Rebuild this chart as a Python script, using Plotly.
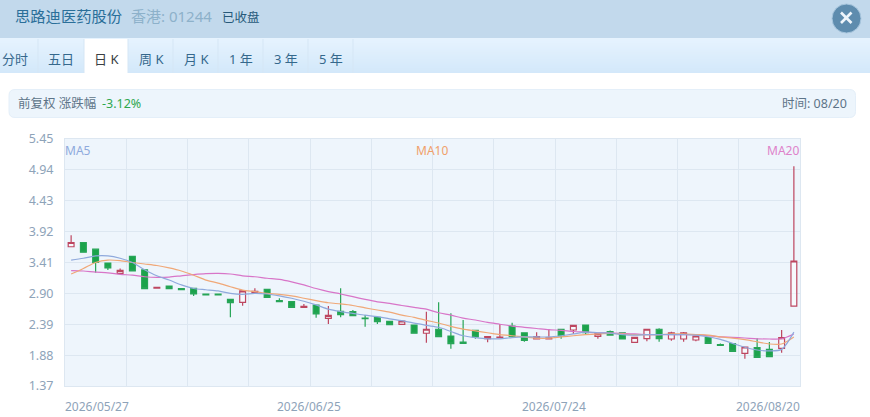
import plotly.graph_objects as go

dates = ["2026/05/27","2026/05/28","2026/05/29","2026/06/01","2026/06/02","2026/06/03","2026/06/04","2026/06/05","2026/06/08","2026/06/09",
"2026/06/10","2026/06/11","2026/06/12","2026/06/15","2026/06/16","2026/06/17","2026/06/18","2026/06/22","2026/06/23","2026/06/24",
"2026/06/25","2026/06/26","2026/06/29","2026/06/30","2026/07/02","2026/07/03","2026/07/06","2026/07/07","2026/07/08","2026/07/09",
"2026/07/10","2026/07/13","2026/07/14","2026/07/15","2026/07/16","2026/07/17","2026/07/20","2026/07/21","2026/07/22","2026/07/23",
"2026/07/24","2026/07/27","2026/07/28","2026/07/29","2026/07/30","2026/07/31","2026/08/03","2026/08/04","2026/08/05","2026/08/06",
"2026/08/07","2026/08/10","2026/08/11","2026/08/12","2026/08/13","2026/08/14","2026/08/17","2026/08/18","2026/08/19","2026/08/20"]

open_ = [3.67,3.74,3.63,3.40,3.23,3.51,3.29,2.985,3.02,2.977,2.984,2.89,2.89,2.80,2.75,2.91,2.967,2.779,2.763,2.67,
2.708,2.488,2.604,2.597,2.493,2.505,2.439,2.389,2.378,2.241,2.307,2.196,2.097,2.29,2.151,2.168,2.361,2.25,2.146,2.15,
2.307,2.295,2.378,2.191,2.267,2.25,2.092,2.151,2.307,2.146,2.146,2.13,2.168,2.052,2.069,1.91,2.003,1.976,1.993,2.691]
close = [3.74,3.58,3.41,3.32,3.28,3.27,2.977,3.00,2.977,2.96,2.89,2.873,2.873,2.746,2.94,2.934,2.835,2.763,2.67,2.687,
2.559,2.538,2.548,2.531,2.482,2.432,2.383,2.444,2.241,2.307,2.184,2.069,2.075,2.179,2.184,2.179,2.184,2.125,2.184,2.165,
2.196,2.373,2.25,2.234,2.212,2.146,2.174,2.307,2.151,2.246,2.25,2.196,2.075,2.042,1.943,2.014,1.844,1.854,2.168,3.435]
high = [3.86,3.75,3.64,3.40,3.31,3.52,3.29,3.005,3.02,2.977,2.984,2.89,2.89,2.802,2.94,2.984,2.967,2.819,2.763,2.725,
2.708,2.692,2.984,2.625,2.543,2.505,2.439,2.444,2.378,2.597,2.753,2.571,2.46,2.29,2.184,2.394,2.416,2.25,2.257,2.307,
2.307,2.373,2.378,2.234,2.285,2.25,2.174,2.307,2.323,2.267,2.26,2.196,2.168,2.07,2.069,2.014,2.158,2.097,2.295,5.00]
low = [3.66,3.57,3.24,3.286,3.23,3.27,2.977,2.98,2.977,2.96,2.857,2.873,2.873,2.505,2.696,2.91,2.835,2.763,2.67,2.67,
2.498,2.394,2.505,2.531,2.35,2.394,2.383,2.389,2.241,2.085,2.184,1.986,2.075,2.151,2.092,2.168,2.184,2.102,2.146,2.15,
2.151,2.229,2.229,2.151,2.212,2.146,2.092,2.108,2.102,2.118,2.102,2.108,2.075,2.042,1.943,1.821,1.844,1.854,1.92,2.691]

ma5 = [3.45,3.48,3.52,3.52,3.48,3.41,3.29,3.19,3.12,3.04,2.98,2.96,2.94,2.90,2.885,2.90,2.89,2.86,2.82,2.77,
2.71,2.64,2.60,2.57,2.54,2.515,2.48,2.45,2.41,2.37,2.34,2.27,2.20,2.17,2.15,2.15,2.17,2.18,2.18,2.18,
2.20,2.23,2.26,2.25,2.245,2.22,2.21,2.217,2.22,2.22,2.217,2.21,2.184,2.14,2.075,2.01,1.965,1.95,1.975,2.26]
ma10 = [3.22,3.31,3.41,3.45,3.44,3.41,3.385,3.36,3.32,3.27,3.20,3.12,3.07,3.01,2.955,2.93,2.90,2.885,2.86,2.82,
2.78,2.745,2.725,2.70,2.66,2.625,2.59,2.54,2.505,2.455,2.41,2.356,2.31,2.28,2.25,2.22,2.20,2.18,2.16,2.16,
2.18,2.20,2.217,2.23,2.24,2.23,2.217,2.217,2.22,2.23,2.23,2.22,2.21,2.18,2.16,2.135,2.10,2.064,2.064,2.18]
ma20 = [3.275,3.27,3.25,3.24,3.215,3.20,3.175,3.165,3.17,3.19,3.21,3.225,3.23,3.22,3.19,3.175,3.15,3.13,3.09,3.04,
2.98,2.93,2.89,2.845,2.80,2.76,2.735,2.70,2.67,2.64,2.58,2.54,2.49,2.46,2.42,2.39,2.36,2.34,2.32,2.30,
2.29,2.27,2.26,2.25,2.245,2.24,2.23,2.22,2.217,2.217,2.22,2.217,2.20,2.18,2.174,2.163,2.15,2.146,2.15,2.23]

y_ticks = [5.45,4.94,4.43,3.92,3.41,2.90,2.39,1.88,1.37]
y_tick_labels = ["5.45","4.94","4.43","3.92","3.41","2.90","2.39","1.88","1.37"]
tabs = ["分时","五日","日 K","周 K","月 K","1 年","3 年","5 年"]

W, H = 870, 417
L, R, T, B = 65, 800, 139, 386
SANS = "Noto Sans, Noto Sans CJK SC, sans-serif"
px = lambda v: (v - L) / (R - L)
py = lambda v: (B - v) / (B - T)

shapes = []
def rect(x0, y0, x1, y1, fill, line=None):
    shapes.append(dict(type="rect", xref="paper", yref="paper", x0=px(x0), x1=px(x1), y0=py(y0), y1=py(y1),
                       fillcolor=fill, line=dict(width=0) if line is None else dict(color=line, width=1), layer="below"))

def hexmix(a, b, t):
    return "rgb(%d,%d,%d)" % tuple(round(a[i] + (b[i] - a[i]) * t) for i in range(3))

rect(0, 0, W, 38, "#c2d9ec")
for k in range(35):
    rect(0, 38 + k, W, 39 + k, hexmix((230, 243, 254), (211, 232, 250), k / 34))
rect(84, 39, 128, 73, "#ffffff")
for sx in [38, 84, 128, 173, 218, 263, 308, 353]:
    shapes.append(dict(type="line", xref="paper", yref="paper", x0=px(sx), x1=px(sx), y0=py(39), y1=py(73),
                       line=dict(color="#d5e6f5", width=1), layer="below"))

def round_rect(x0, y0, x1, y1, r):
    a, b, c, d = px(x0), px(x1), py(y0), py(y1)
    rx, ry = r / (R - L), r / (B - T)
    return (f"M {a+rx} {c} L {b-rx} {c} Q {b} {c} {b} {c-ry} L {b} {d+ry} Q {b} {d} {b-rx} {d} "
            f"L {a+rx} {d} Q {a} {d} {a} {d+ry} L {a} {c-ry} Q {a} {c} {a+rx} {c} Z")
shapes.append(dict(type="path", xref="paper", yref="paper", path=round_rect(9, 89.5, 855.5, 117.5, 6),
                   fillcolor="#edf5fc", line=dict(color="#e4eff9", width=1), layer="below"))
shapes.append(dict(type="circle", xref="paper", yref="paper", x0=px(832), x1=px(861), y0=py(4), y1=py(33),
                   fillcolor="#5e8cae", line=dict(color="#a9c7de", width=1), layer="below"))
for (a, b, c, d) in [(841, 12.5, 851.5, 23), (841, 23, 851.5, 12.5)]:
    shapes.append(dict(type="line", xref="paper", yref="paper", x0=px(a), x1=px(c), y0=py(b), y1=py(d),
                       line=dict(color="#eef5fb", width=2.6), layer="below"))

def label(x, y, text, color, size, anchor="left"):
    return dict(xref="paper", yref="paper", x=px(x), y=py(y), text=text, showarrow=False, xanchor=anchor,
                yanchor="middle", font=dict(family=SANS, size=size, color=color), borderpad=0, borderwidth=0)

annotations = [
    label(15, 16, "思路迪医药股份", "#2a6f99", 15.3),
    label(131, 16.5, "香港: 01244", "#8db1ca", 15),
    label(222, 17, "已收盘", "#27597a", 12.5),
    label(18, 103.5, "前复权 涨跌幅", "#5d7488", 12.5),
    label(102, 103.5, "-3.12%", "#2fa84f", 12.5),
    label(847, 103.5, "时间: 08/20", "#5d7488", 12.5, "right"),
    label(65, 150, "MA5", "#8faadc", 12),
    label(432, 150, "MA10", "#f0a06a", 12, "center"),
    label(799, 150, "MA20", "#de82ca", 12, "right"),
]
tab_centers = [15, 61, 106, 151, 196, 241, 286, 331]
for t, c in zip(tabs, tab_centers):
    annotations.append(label(c, 59, t, "#3a3f44" if t == "日 K" else "#35688c", 13, "center"))

n = len(dates)
xs = list(range(n))
for idx, pos, anchor, shift in [(0, -0.5, "left", -2), (20, 19.5, "center", -1), (40, 39.5, "center", -1), (59, 59.5, "right", 2)]:
    annotations.append(dict(xref="x", yref="paper", x=pos, y=py(406), xshift=shift, text=dates[idx], showarrow=False,
                            xanchor=anchor, yanchor="middle", font=dict(family=SANS, size=12, color="#8ea3b9")))

fig = go.Figure()
fig.add_trace(go.Candlestick(
    x=xs, open=open_, high=high, low=low, close=close, whiskerwidth=0,
    increasing=dict(line=dict(color="#bd4660", width=1.2), fillcolor="rgba(255,255,255,0.45)"),
    decreasing=dict(line=dict(color="#27a557", width=1.2), fillcolor="#1ba34b"),
    showlegend=False, hoverinfo="skip"))
for vals, col in [(ma20, "#d875c8"), (ma10, "#f0a878"), (ma5, "#8fa9dc")]:
    fig.add_trace(go.Scatter(x=xs, y=vals, mode="lines", line=dict(color=col, width=1.2, shape="spline", smoothing=0.8),
                             showlegend=False, hoverinfo="skip"))

fig.update_layout(
    width=W, height=H, autosize=False, margin=dict(l=L, r=W - R, t=T, b=H - B, pad=0),
    paper_bgcolor="#ffffff", plot_bgcolor="#eef5fc", shapes=shapes, annotations=annotations, boxgap=0.32,
    showlegend=False, font=dict(family=SANS),
    xaxis=dict(range=[-0.5, n - 0.5], tickmode="array", tickvals=[-0.5 + 5 * k for k in range(13)],
               ticktext=[""] * 13, showgrid=True, gridcolor="#dde7f1", gridwidth=1, ticks="", zeroline=False,
               rangeslider=dict(visible=False), showline=True, linecolor="#dde7f1", mirror=True, fixedrange=True),
    yaxis=dict(range=[1.37, 5.45], tickmode="array", tickvals=y_ticks, ticktext=y_tick_labels,
               showgrid=True, gridcolor="#dde7f1", gridwidth=1, ticks="outside", ticklen=8, tickcolor="rgba(0,0,0,0)",
               zeroline=False, showline=True, linecolor="#dde7f1", mirror=True, fixedrange=True,
               tickfont=dict(family=SANS, size=12.5, color="#8ea3b9")),
)
fig.write_html("out.html", config=dict(displayModeBar=False),
               post_script="document.body.style.margin='0';document.body.style.overflow='hidden';")
